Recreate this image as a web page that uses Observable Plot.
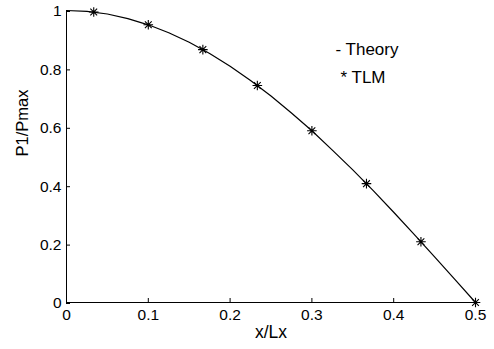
<!DOCTYPE html>
<html>
<head>
<meta charset="utf-8">
<script src="https://cdn.jsdelivr.net/npm/d3@7"></script>
<script src="https://cdn.jsdelivr.net/npm/@observablehq/plot@0.6"></script>
<style>
  html, body { margin: 0; padding: 0; background: #fff; }
  #chart svg { display: block; }
</style>
</head>
<body>
<div id="chart"></div>
<script>
// Theory curve
const theoryX = [0, 0.025, 0.05, 0.075, 0.1, 0.125, 0.15, 0.175, 0.2, 0.225, 0.25, 0.275, 0.3, 0.325, 0.35, 0.375, 0.4, 0.425, 0.45, 0.475, 0.5];
const theoryY = [1, 0.997, 0.988, 0.972, 0.951, 0.924, 0.891, 0.853, 0.809, 0.760, 0.707, 0.649, 0.588, 0.522, 0.454, 0.383, 0.309, 0.233, 0.156, 0.078, 0];
// TLM points
const tlmX = [0.0333, 0.1, 0.1667, 0.2333, 0.3, 0.3667, 0.4333, 0.5];
const tlmY = [0.995, 0.951, 0.866, 0.743, 0.588, 0.407, 0.208, 0];
// ticks
const xTicks = [0, 0.1, 0.2, 0.3, 0.4, 0.5];
const yTicks = [0, 0.2, 0.4, 0.6, 0.8, 1];
const legendLabels = ["- Theory", "* TLM"];

const theory = theoryX.map((x, i) => ({x, y: theoryY[i]}));
const tlm = tlmX.map((x, i) => ({x, y: tlmY[i]}));

const asterisk = {
  draw(ctx, size) {
    const r = Math.sqrt(size / Math.PI);
    const d = r * Math.SQRT1_2;
    ctx.moveTo(-r, 0); ctx.lineTo(r, 0);
    ctx.moveTo(0, -r); ctx.lineTo(0, r);
    ctx.moveTo(-d, -d); ctx.lineTo(d, d);
    ctx.moveTo(-d, d); ctx.lineTo(d, -d);
  }
};

const fmt = d => d === 0 ? "0" : d === 1 ? "1" : String(d);

const plot = Plot.plot({
  width: 494,
  height: 349,
  marginLeft: 66,
  marginRight: 19,
  marginTop: 10,
  marginBottom: 47,
  style: {fontFamily: "'Liberation Sans', Arial, sans-serif", fontSize: "15px", color: "#000", background: "#fff"},
  x: {domain: [0, 0.5]},
  y: {domain: [0, 1]},
  marks: [
    Plot.ruleY([0], {stroke: "#000", strokeWidth: 1}),
    Plot.ruleX([0], {stroke: "#000", strokeWidth: 1}),
    Plot.axisX({ticks: xTicks, tickFormat: fmt, tickSize: -4, tickPadding: 10, label: null, fontSize: 15.5, strokeWidth: 1}),
    Plot.axisY({ticks: yTicks, tickFormat: fmt, tickSize: -4, tickPadding: 9, dy: 1, label: null, fontSize: 15.5, strokeWidth: 1}),
    Plot.text(["x/Lx"], {frameAnchor: "bottom", dy: 35, fontSize: 17.5}),
    Plot.text(["P1/Pmax"], {frameAnchor: "left", dx: -44, dy: 0, rotate: -90, fontSize: 16.5}),
    Plot.line(theory, {x: "x", y: "y", stroke: "#000", strokeWidth: 1.2}),
    Plot.dot(tlm, {x: "x", y: "y", symbol: asterisk, r: 4.8, stroke: "#000", strokeWidth: 1.1, fill: "none"}),
    Plot.text([legendLabels[0]], {frameAnchor: "top-left", dx: 269, dy: 32, textAnchor: "start", fontSize: 17}),
    Plot.text([legendLabels[1]], {frameAnchor: "top-left", dx: 274, dy: 60, textAnchor: "start", fontSize: 17})
  ]
});
document.getElementById("chart").appendChild(plot);
</script>
</body>
</html>
